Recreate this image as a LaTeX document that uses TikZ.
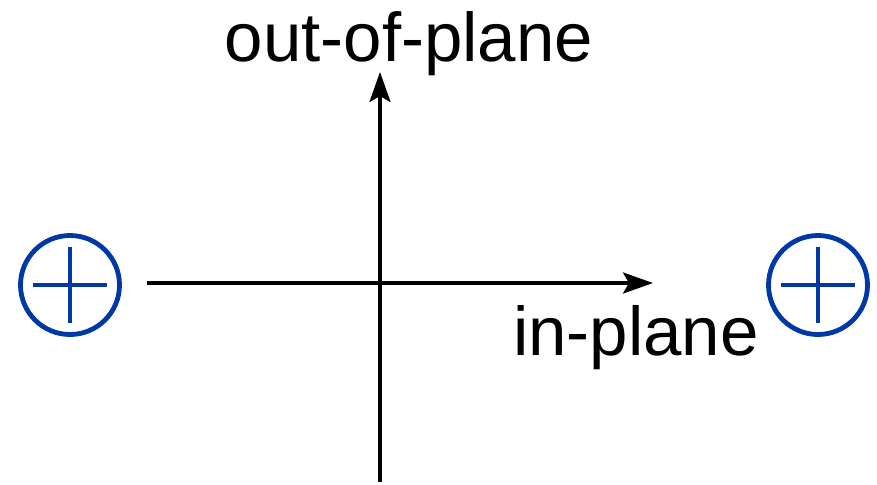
\documentclass[tikz,border=0pt]{standalone}
\usepackage{fontspec}
\setmainfont{Liberation Sans}
\usetikzlibrary{arrows.meta, positioning}
\definecolor{fldBlue}{HTML}{0039A6}
\tikzset{
  axline/.style={line width=1.75pt, black, -{Stealth[length=15pt, width=10.5pt, inset=3pt]}},
  axlabel/.style={font=\fontsize{34.5}{40}\selectfont, anchor=base, inner sep=0pt},
  pmark/.style={circle, draw=fldBlue, line width=2.4pt, minimum size=49.5pt, inner sep=0pt},
  pcross/.style={draw=fldBlue, line width=2.1pt}
}
\begin{document}
\begin{tikzpicture}[x=0.5pt, y=-0.5pt]
    \useasboundingbox (0,0) rectangle (877,484);
    % axes
    \coordinate (vLo) at (380,482);
    \coordinate (vHi) at (380,72);
    \coordinate (hLo) at (147,283);
    \coordinate (hHi) at (653,283);
    \draw[axline] (vLo) -- (vHi);
    \draw[axline] (hLo) -- (hHi);
    \node[axlabel] (lblOut) at (409,61) {out-of-plane};
    \node[axlabel] (lblIn) at (636,355) {in-plane};
    % field markers
    \foreach \cx/\nm in {70/markL, 818/markR}{
        \node[pmark] (\nm) at (\cx,285) {};
        \draw[pcross] ([xshift=-18.5pt]\nm.center) -- ([xshift=18.5pt]\nm.center);
        \draw[pcross] ([yshift=-19pt]\nm.center) -- ([yshift=19pt]\nm.center);
      }
\end{tikzpicture}
\end{document}
